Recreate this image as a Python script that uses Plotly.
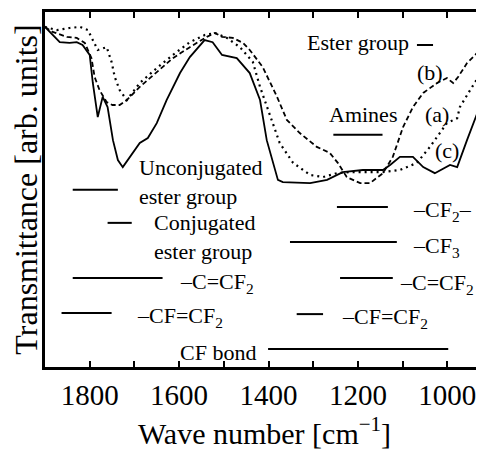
import plotly.graph_objects as go

# ---- data ----
wn_c = [1900, 1867, 1845, 1829, 1816, 1800, 1793, 1782, 1771, 1760, 1748, 1737, 1726, 1710, 1688, 1670,
        1650, 1628, 1598, 1576, 1554, 1543, 1525, 1504, 1471, 1442, 1419, 1404, 1379, 1368, 1307, 1269,
        1234, 1189, 1144, 1128, 1106, 1077, 1054, 1028, 994, 978, 956, 933, 918]
t_c = [0.958, 0.915, 0.913, 0.915, 0.907, 0.879, 0.800, 0.704, 0.761, 0.732, 0.639, 0.583, 0.563, 0.592,
       0.631, 0.645, 0.687, 0.752, 0.828, 0.873, 0.907, 0.921, 0.915, 0.879, 0.870, 0.828, 0.752, 0.639,
       0.527, 0.521, 0.518, 0.527, 0.549, 0.555, 0.555, 0.569, 0.592, 0.592, 0.563, 0.546, 0.569, 0.563,
       0.639, 0.715, 0.757]

wn_a = [1900, 1883, 1851, 1829, 1811, 1796, 1789, 1778, 1762, 1749, 1733, 1717, 1688, 1650, 1614, 1576,
        1538, 1520, 1504, 1480, 1457, 1442, 1413, 1381, 1359, 1330, 1292, 1263, 1245, 1225, 1195, 1173,
        1144, 1122, 1099, 1077, 1054, 1023, 1001, 987, 976, 956, 933, 918]
t_a = [0.958, 0.944, 0.930, 0.927, 0.913, 0.870, 0.817, 0.780, 0.746, 0.738, 0.738, 0.752, 0.789, 0.831,
       0.870, 0.901, 0.930, 0.941, 0.930, 0.927, 0.913, 0.893, 0.845, 0.761, 0.696, 0.659, 0.620, 0.603,
       0.575, 0.535, 0.518, 0.518, 0.546, 0.592, 0.676, 0.732, 0.772, 0.800, 0.814, 0.800, 0.817, 0.856,
       0.885, 0.895]

wn_b = [1900, 1874, 1845, 1822, 1804, 1793, 1782, 1762, 1751, 1744, 1733, 1717, 1688, 1650, 1614, 1576,
        1543, 1520, 1493, 1464, 1435, 1419, 1397, 1375, 1345, 1307, 1278, 1247, 1218, 1180, 1144, 1106,
        1068, 1039, 1016, 1001, 978, 972, 949, 927, 918]
t_b = [0.958, 0.949, 0.955, 0.958, 0.949, 0.921, 0.893, 0.901, 0.859, 0.817, 0.780, 0.752, 0.800, 0.842,
       0.879, 0.915, 0.935, 0.941, 0.927, 0.901, 0.859, 0.789, 0.710, 0.631, 0.575, 0.541, 0.535, 0.546,
       0.549, 0.549, 0.549, 0.555, 0.575, 0.620, 0.659, 0.687, 0.701, 0.732, 0.780, 0.823, 0.842]

# band assignments: (start, end, level)
band_names = ["Ester group", "Amines", "Unconjugated ester", "Conjugated ester", "-C=CF2 (left)",
              "-CF=CF2 (left)", "CF bond", "-CF2-", "-CF3", "-C=CF2 (right)", "-CF=CF2 (right)"]
band_start = [1068, 1255, 1838, 1760, 1838, 1863, 1401, 1247, 1352, 1240, 1337]
band_end = [1032, 1145, 1737, 1706, 1637, 1751, 998, 1133, 1113, 1122, 1278]
band_level = [0.907, 0.654, 0.499, 0.406, 0.251, 0.152, 0.051, 0.451, 0.352, 0.251, 0.149]

label_text = ["Ester group", "(b)", "Amines", "(a)", "(c)", "Unconjugated<br>ester group",
              "Conjugated<br>ester group", "\u2013C=CF<sub>2</sub>", "\u2013CF=CF<sub>2</sub>", "CF bond",
              "\u2013CF<sub>2</sub>\u2013", "\u2013CF<sub>3</sub>", "\u2013C=CF<sub>2</sub>",
              "\u2013CF=CF<sub>2</sub>"]
label_x = [1319, 1072, 1269, 1054, 1032, 1695, 1661, 1603, 1699, 1603, 1081, 1081, 1110, 1240]
label_y = [0.913, 0.831, 0.710, 0.710, 0.611, 0.521, 0.366, 0.236, 0.140, 0.042, 0.440, 0.339, 0.234, 0.138]

tick_vals = [1800, 1600, 1400, 1200, 1000]
tick_text = ["1800", "1600", "1400", "1200", "1000"]

FONT = "Liberation Serif, Times New Roman, serif"

fig = go.Figure()
fig.add_trace(go.Scatter(x=wn_a, y=t_a, mode="lines", name="(a)",
                         line=dict(color="black", width=1.8, dash="5px,3px")))
fig.add_trace(go.Scatter(x=wn_b, y=t_b, mode="lines", name="(b)",
                         line=dict(color="black", width=2.2, dash="2px,4px")))
fig.add_trace(go.Scatter(x=wn_c, y=t_c, mode="lines", name="(c)",
                         line=dict(color="black", width=1.8)))

for s, e, lv in zip(band_start, band_end, band_level):
    fig.add_trace(go.Scatter(x=[s, e], y=[lv, lv], mode="lines", showlegend=False,
                             line=dict(color="black", width=2)))

for t, x, y in zip(label_text, label_x, label_y):
    fig.add_annotation(x=x, y=y, xref="x", yref="y", text=t, showarrow=False,
                       xanchor="left", yanchor="middle", align="left",
                       font=dict(family=FONT, size=22, color="black"))

# page body has an 8px margin, so the figure is 8px smaller than the window
fig.update_layout(
    width=476, height=446,
    margin=dict(l=37, r=0, t=4, b=87),
    paper_bgcolor="white", plot_bgcolor="white",
    showlegend=False,
    font=dict(family=FONT, color="black"),
)
fig.update_xaxes(
    range=[1900, 918], showgrid=False, zeroline=False,
    showline=True, linecolor="black", linewidth=2.5, mirror="allticks",
    ticks="inside", ticklen=6, tickwidth=1.5, tickcolor="black",
    tickvals=tick_vals, ticktext=tick_text,
    minor=dict(dtick=100, tick0=1000, ticks="inside", ticklen=6, tickwidth=1.5, tickcolor="black"),
    tickfont=dict(family=FONT, size=29, color="black"),
    title=dict(text="Wave number [cm<sup>\u22121</sup>]", font=dict(family=FONT, size=30, color="black"),
               standoff=14),
)
fig.update_yaxes(
    range=[0, 1], showgrid=False, zeroline=False,
    showline=True, linecolor="black", linewidth=2.5, mirror=False,
    showticklabels=False, ticks="",
    title=dict(text="Transmittance [arb. units]", font=dict(family=FONT, size=32, color="black"),
               standoff=4),
)

fig.write_html("out.html")
